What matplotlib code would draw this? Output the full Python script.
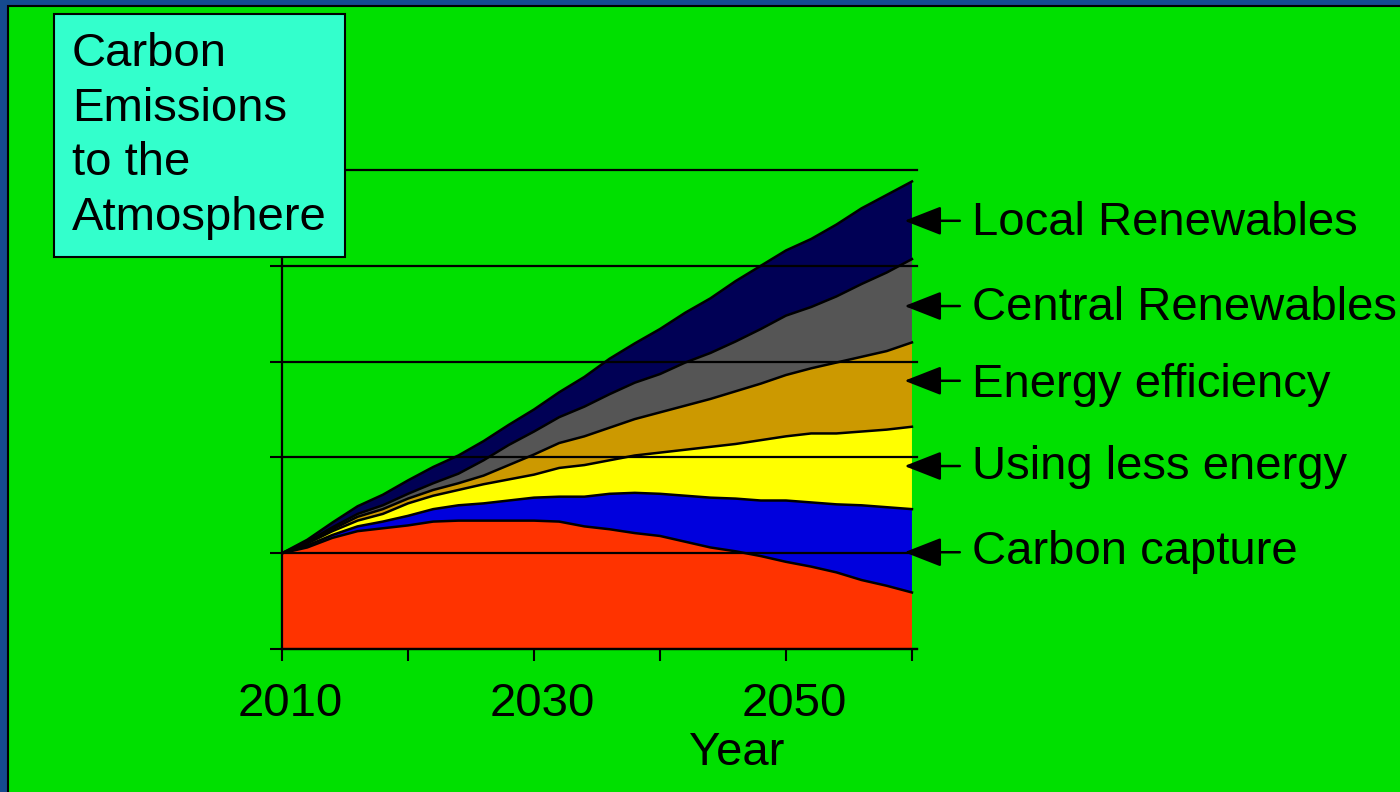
import matplotlib
matplotlib.use("Agg")
import matplotlib.pyplot as plt
from matplotlib.patches import Rectangle
from matplotlib.transforms import ScaledTranslation
import numpy as np

plt.rcParams['font.family'] = ['Liberation Sans', 'DejaVu Sans']

# emissions relative to 2010 (1 unit = one gridline step)
years = list(range(2010, 2061, 2))
atmosphere = [1.00, 1.06, 1.16, 1.23, 1.26, 1.29, 1.33, 1.34, 1.34, 1.34, 1.34, 1.33, 1.28,
              1.25, 1.21, 1.18, 1.12, 1.06, 1.02, 0.97, 0.91, 0.86, 0.80, 0.72, 0.66, 0.59]
carbon_capture = [0, .02, .03, .05, .07, .10, .13, .16, .18, .21, .24, .26, .31,
                  .37, .42, .44, .48, .52, .55, .58, .64, .67, .71, .78, .82, .87]
less_energy = [0, .02, .04, .06, .08, .13, .14, .16, .20, .22, .24, .30, .33,
               .35, .39, .43, .48, .53, .57, .63, .67, .72, .74, .77, .81, .86]
efficiency = [0, .01, .02, .04, .05, .05, .06, .07, .09, .15, .21, .26, .30,
              .34, .38, .42, .46, .50, .55, .59, .64, .68, .74, .78, .82, .88]
central_ren = [0, .01, .02, .03, .04, .05, .07, .10, .16, .21, .24, .27, .31,
               .35, .38, .40, .45, .48, .52, .57, .62, .64, .69, .76, .82, .87]
local_ren = [0, .02, .05, .08, .11, .14, .17, .19, .20, .21, .23, .26, .31,
             .37, .41, .47, .52, .57, .63, .66, .68, .71, .75, .79, .81, .81]

labels = ["Local Renewables", "Central Renewables", "Energy efficiency",
          "Using less energy", "Carbon capture"]
label_y = [4.32, 3.43, 2.63, 1.77, 0.89]
arrow_y = [4.47, 3.58, 2.80, 1.91, 1.01]

colors = ["#ff3300", "#0000dd", "#ffff00", "#cc9900", "#555555", "#000055"]
green = "#00e000"

fig = plt.figure(figsize=(14, 7.92), dpi=100)
fig.patch.set_facecolor("#154a8f")
fig.add_artist(Rectangle((8/1400, -0.02), 1.0, 1 - 6/792 + 0.02, transform=fig.transFigure,
                         facecolor=green, edgecolor="black", lw=1.5, zorder=0))

ax = fig.add_axes([282/1400, 1 - 649/792, 635/1400, 479/792])
ax.set_facecolor("none")

series = [atmosphere, carbon_capture, less_energy, efficiency, central_ren, local_ren]
ax.stackplot(years, *series, colors=colors, lw=0)
tops = np.cumsum(np.array(series), axis=0)
for top in tops:
    ax.plot(years, top, color="black", lw=1.8, solid_joinstyle="round")

ax.set_xlim(2010, 2060.4)
ax.set_ylim(0, 5)
ax.set_xticks([2010, 2020, 2030, 2040, 2050, 2060])
ax.set_xticklabels(["2010", "", "2030", "", "2050", ""])
ax.set_yticks([0, 1, 2, 3, 4, 5])
ax.set_yticklabels([])
ax.tick_params(axis="both", direction="out", length=8.6, width=1.5, color="black",
               labelsize=34, pad=15)
shift = ScaledTranslation(8/100, 0, fig.dpi_scale_trans)
for lbl in ax.get_xticklabels():
    lbl.set_transform(lbl.get_transform() + shift)
ax.yaxis.grid(True, color="black", lw=1.6)
for gl in ax.get_ygridlines():
    gl.set_clip_on(False)
ax.set_axisbelow(False)
for s in ["top", "right"]:
    ax.spines[s].set_visible(False)
for s in ["left", "bottom"]:
    ax.spines[s].set_linewidth(1.6)

for lab, ly, ay in zip(labels, label_y, arrow_y):
    ax.annotate("", xy=(2059.4, ay), xytext=(2063.8, ay),
                arrowprops=dict(arrowstyle="-|>,head_length=1.15,head_width=0.45",
                                mutation_scale=20, color="black", lw=1.8,
                                shrinkA=0, shrinkB=0),
                annotation_clip=False)
    ax.text(2064.76, ly, lab, fontsize=34, ha="left", va="baseline", clip_on=False)

fig.text(737/1400, 1 - 765/792, "Year", fontsize=34, ha="center", va="baseline")

fig.add_artist(Rectangle((54/1400, 1 - 257/792), 291/1400, 243/792, transform=fig.transFigure,
                         facecolor="#33ffcc", edgecolor="black", lw=1.5, zorder=5))
fig.text(72/1400, 1 - 32/792, "Carbon\nEmissions\nto the\nAtmosphere", fontsize=34,
         ha="left", va="top", linespacing=1.31, zorder=6)

fig.savefig("out.png", dpi=100, facecolor=fig.get_facecolor())
